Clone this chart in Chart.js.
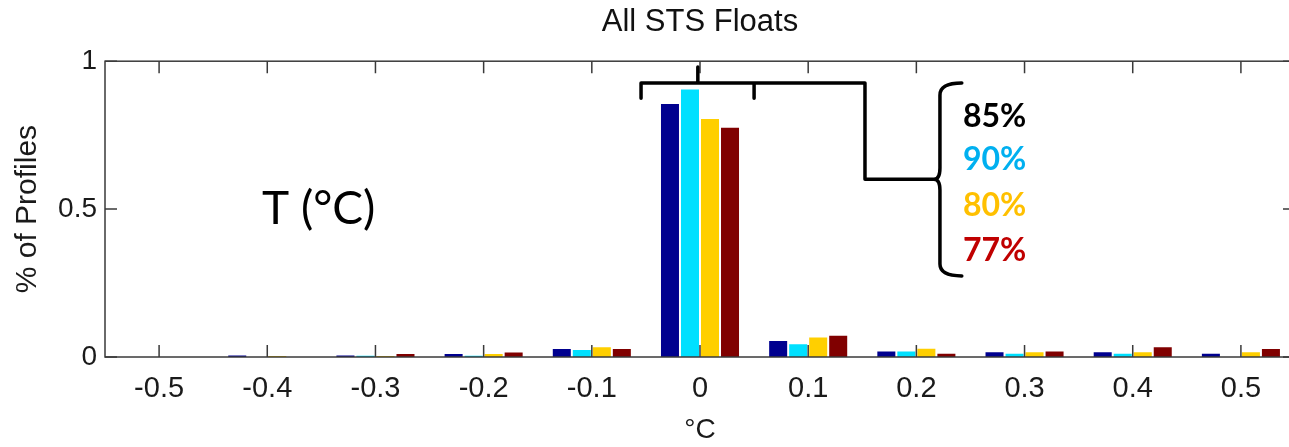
<!DOCTYPE html>
<html>
<head>
<meta charset="utf-8">
<script src="https://cdn.jsdelivr.net/npm/chart.js@4.4.1/dist/chart.umd.min.js"></script>
<style>
  html, body { margin: 0; padding: 0; background: #fff; overflow: hidden; }
  #wrap { width: 1297px; height: 447px; }
</style>
</head>
<body>
<div id="wrap"><canvas id="myChart"></canvas></div>
<script>
const categories = ['-0.5', '-0.4', '-0.3', '-0.2', '-0.1', '0', '0.1', '0.2', '0.3', '0.4', '0.5'];
const series1 = [0, 0.005, 0.005, 0.010, 0.027, 0.855, 0.054, 0.019, 0.016, 0.016, 0.011];
const series2 = [0, 0, 0.004, 0.004, 0.024, 0.904, 0.043, 0.019, 0.011, 0.011, 0];
const series3 = [0, 0.003, 0.003, 0.010, 0.033, 0.805, 0.066, 0.028, 0.016, 0.016, 0.016];
const series4 = [0, 0, 0.010, 0.015, 0.027, 0.775, 0.072, 0.011, 0.019, 0.033, 0.027];
const yTicks = [0, 0.5, 1];
const pctLabels = ['85%', '90%', '80%', '77%'];

const barColors = ['#00008f', '#00e0ff', '#ffcf00', '#800000'];
const pctColors = ['#000000', '#00b0f0', '#ffc000', '#c00000'];

Chart.defaults.font.family = '"Liberation Sans", Arial, sans-serif';
Chart.defaults.color = '#1a1a1a';

// box, inward ticks and the brace annotations (placed in axis units)
const frame = {
  id: 'frame',
  afterDatasetsDraw(chart) {
    const { ctx, chartArea: a, scales: { x, y } } = chart;
    const P = (i, v) => [x.getPixelForValue(i), y.getPixelForValue(v)];
    ctx.save();
    ctx.strokeStyle = '#3a3a3a';
    ctx.lineWidth = 1.5;
    ctx.strokeRect(a.left, a.top, a.right - a.left, a.bottom - a.top);
    ctx.beginPath();
    categories.forEach((c, i) => {
      const px = x.getPixelForValue(i);
      ctx.moveTo(px, a.bottom); ctx.lineTo(px, a.bottom - 12);
      ctx.moveTo(px, a.top); ctx.lineTo(px, a.top + 12);
    });
    yTicks.forEach(v => {
      const py = y.getPixelForValue(v);
      ctx.moveTo(a.left, py); ctx.lineTo(a.left + 12, py);
      ctx.moveTo(a.right, py); ctx.lineTo(a.right - 12, py);
    });
    ctx.stroke();

    // braces
    ctx.strokeStyle = '#000';
    ctx.lineWidth = 3.5;
    ctx.lineJoin = 'round';
    ctx.lineCap = 'round';
    ctx.beginPath();
    ctx.moveTo(...P(4.455, 0.875));
    ctx.lineTo(...P(4.455, 0.926));
    ctx.lineTo(...P(6.525, 0.926));
    ctx.lineTo(...P(6.525, 0.601));
    ctx.lineTo(...P(7.163, 0.601));
    ctx.moveTo(...P(5.5, 0.926));
    ctx.lineTo(...P(5.5, 0.875));
    ctx.moveTo(...P(4.98, 0.926));
    ctx.lineTo(...P(4.98, 0.98));
    // big curly brace
    ctx.moveTo(...P(7.42, 0.926));
    ctx.quadraticCurveTo(...P(7.218, 0.926), ...P(7.218, 0.885));
    ctx.lineTo(...P(7.218, 0.639));
    ctx.quadraticCurveTo(...P(7.218, 0.601), ...P(7.163, 0.601));
    ctx.quadraticCurveTo(...P(7.218, 0.601), ...P(7.218, 0.564));
    ctx.lineTo(...P(7.218, 0.314));
    ctx.quadraticCurveTo(...P(7.218, 0.274), ...P(7.42, 0.274));
    ctx.stroke();

    ctx.textAlign = 'left';
    ctx.textBaseline = 'middle';
    ctx.fillStyle = '#000';
    ctx.font = '46px Lato';
    ctx.fillText('T (°C)', ...P(0.952, 0.5));

    ctx.font = 'bold 32px Lato';
    const pctY = [0.814, 0.666, 0.51, 0.361];
    pctLabels.forEach((t, k) => {
      ctx.fillStyle = pctColors[k];
      ctx.fillText(t, ...P(7.43, pctY[k]));
    });
    ctx.restore();
  }
};

const data = {
  labels: categories,
  datasets: [series1, series2, series3, series4].map((d, k) => ({
    label: 'Series ' + (k + 1),
    data: d,
    backgroundColor: barColors[k],
    borderWidth: 0,
    categoryPercentage: 0.74,
    barPercentage: 0.9
  }))
};

const config = {
  type: 'bar',
  data,
  options: {
    responsive: true,
    maintainAspectRatio: false,
    animation: false,
    layout: { padding: { top: 0, right: 2, bottom: 0, left: 0 } },
    plugins: {
      legend: { display: false },
      tooltip: { enabled: false },
      title: {
        display: true,
        fullSize: false,
        text: 'All STS Floats',
        color: '#111',
        font: { size: 31, weight: 'normal' },
        padding: { top: 4, bottom: 20 }
      }
    },
    scales: {
      x: {
        grid: { display: false, drawTicks: false },
        border: { display: false },
        ticks: { font: { size: 29 }, padding: 15, maxRotation: 0, autoSkip: false },
        title: { display: true, text: '°C', font: { size: 28 }, padding: { top: 0, bottom: 0 } },
        afterFit(scale) { scale.height = 90; }
      },
      y: {
        min: 0,
        max: 1,
        grid: { display: false, drawTicks: false },
        border: { display: false },
        ticks: {
          stepSize: 0.5,
          font: { size: 28 },
          padding: 8,
          callback: v => String(v)
        },
        title: { display: true, text: '% of Profiles', font: { size: 30 }, padding: { top: 10, bottom: 0 } },
        afterFit(scale) { scale.width = 105; }
      }
    }
  },
  plugins: [frame]
};

myChart = new Chart(document.getElementById('myChart'), config);
</script>
</body>
</html>
